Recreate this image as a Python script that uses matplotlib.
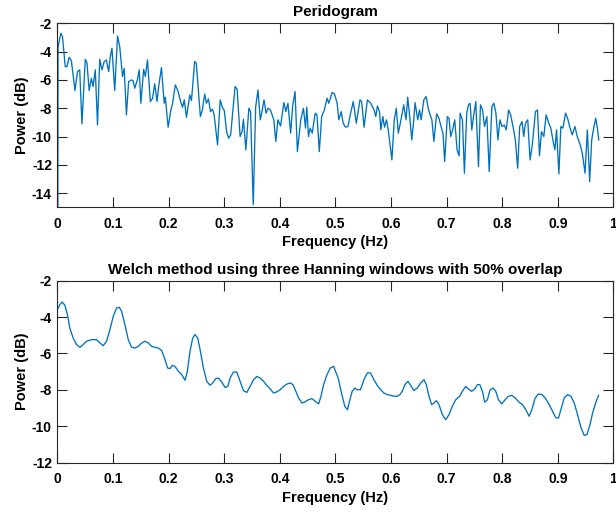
import matplotlib
matplotlib.use("Agg")
import matplotlib.pyplot as plt

plt.rcParams["font.family"] = ["Liberation Sans", "DejaVu Sans"]
plt.rcParams["axes.unicode_minus"] = False

# periodogram (Hz, dB)
per_freq = [
    0.0, 0.001, 0.006, 0.009, 0.014, 0.017, 0.021, 0.025, 0.0315, 0.036,
    0.040, 0.044, 0.050, 0.053, 0.057, 0.061, 0.064, 0.068, 0.072, 0.076,
    0.080, 0.084, 0.088, 0.092, 0.095, 0.098, 0.103, 0.108, 0.112, 0.117,
    0.120, 0.124, 0.128, 0.133, 0.136, 0.139, 0.144, 0.147, 0.150, 0.155,
    0.158, 0.162, 0.167, 0.171, 0.175, 0.179, 0.182, 0.187, 0.192, 0.194,
    0.199, 0.204, 0.207, 0.212, 0.217, 0.221, 0.225, 0.228, 0.232, 0.238,
    0.241, 0.2467, 0.2497, 0.257, 0.2606, 0.2648, 0.2679, 0.2715, 0.2752, 0.2788,
    0.2818, 0.2879, 0.2927, 0.2964, 0.300, 0.3042, 0.3079, 0.3115, 0.3194, 0.323,
    0.3285, 0.3321, 0.3345, 0.3388, 0.3442, 0.3473, 0.3521, 0.3564, 0.3606, 0.3648,
    0.3673, 0.3715, 0.3752, 0.3788, 0.383, 0.3891, 0.3927, 0.3964, 0.4012, 0.4073,
    0.4109, 0.4145, 0.4194, 0.423, 0.4273, 0.4315, 0.4376, 0.4424, 0.4461, 0.4485,
    0.4515, 0.4545, 0.4582, 0.4636, 0.4667, 0.4709, 0.4752, 0.480, 0.4849, 0.4879,
    0.494, 0.4982, 0.503, 0.506, 0.5103, 0.5139, 0.5181, 0.5224, 0.5272, 0.532,
    0.5375, 0.5441, 0.5471, 0.5514, 0.5574, 0.5634, 0.5695, 0.5725, 0.5755, 0.5792,
    0.5816, 0.5852, 0.5882, 0.5918, 0.5949, 0.6015, 0.6057, 0.6094, 0.613, 0.6178,
    0.6227, 0.6269, 0.6299, 0.6341, 0.6372, 0.6408, 0.6432, 0.648, 0.6511, 0.6541,
    0.6589, 0.6631, 0.6674, 0.6734, 0.677, 0.6819, 0.6855, 0.6903, 0.6934, 0.6964,
    0.7012, 0.7042, 0.7073, 0.7115, 0.7145, 0.7187, 0.7224, 0.7241, 0.7283, 0.7319,
    0.7361, 0.7392, 0.7422, 0.7452, 0.7482, 0.7524, 0.7572, 0.7608, 0.7645, 0.7681,
    0.7723, 0.7765, 0.7813, 0.7849, 0.7886, 0.7922, 0.7958, 0.7994, 0.8036, 0.8072,
    0.8114, 0.8151, 0.8205, 0.8235, 0.8277, 0.8313, 0.8355, 0.8386, 0.8416, 0.8458,
    0.850, 0.8536, 0.8566, 0.8596, 0.8633, 0.8669, 0.8705, 0.8747, 0.8789, 0.8837,
    0.8873, 0.891, 0.8946, 0.8976, 0.9018, 0.9054, 0.909, 0.9139, 0.9175, 0.9211,
    0.9259, 0.9307, 0.9349, 0.9392, 0.944, 0.9488, 0.953, 0.9572, 0.9608, 0.965,
    0.9681, 0.9711, 0.9735,
]
per_db = [
    -40.0, -3.7, -2.7, -2.94, -5.06, -5.06, -4.4, -4.64, -6.75, -5.41,
    -5.29, -9.1, -4.54, -4.78, -6.75, -5.88, -6.47, -5.29, -9.18, -4.54,
    -5.29, -4.7, -4.59, -5.41, -4.35, -3.76, -6.75, -2.89, -3.65, -5.76,
    -5.18, -8.47, -6.12, -6.0, -6.05, -6.59, -5.95, -5.29, -7.65, -5.25,
    -5.76, -4.59, -7.53, -7.3, -6.28, -7.53, -6.47, -5.13, -7.65, -7.22,
    -9.34, -8.12, -7.65, -6.35, -6.82, -7.46, -7.93, -7.41, -8.64, -7.06,
    -7.46, -4.7, -4.82, -8.59, -8.12, -6.99, -7.65, -7.34, -8.24, -8.07,
    -8.47, -10.59, -7.41, -7.93, -8.16, -9.65, -10.12, -9.88, -6.47, -6.64,
    -10.0, -9.65, -8.78, -10.94, -8.0, -8.24, -14.82, -7.93, -6.71, -8.82,
    -8.35, -7.41, -8.35, -8.0, -8.12, -8.82, -10.35, -8.82, -9.25, -7.6,
    -8.24, -7.65, -9.76, -7.84, -6.82, -11.06, -8.82, -8.0, -9.41, -7.93,
    -10.0, -9.41, -9.76, -8.35, -8.47, -11.06, -8.59, -8.12, -7.29, -7.65,
    -6.89, -6.99, -7.65, -8.82, -8.24, -9.06, -9.34, -9.29, -8.35, -7.53,
    -9.06, -7.41, -7.53, -9.34, -7.41, -7.65, -8.12, -8.59, -7.84, -8.24,
    -9.53, -8.59, -9.34, -8.82, -9.53, -11.65, -8.82, -8.0, -9.76, -8.82,
    -7.76, -8.82, -7.22, -8.82, -10.24, -8.82, -7.6, -8.82, -8.12, -8.82,
    -7.41, -7.18, -8.12, -8.82, -10.35, -8.4, -8.64, -9.34, -9.81, -11.76,
    -8.59, -8.71, -10.0, -9.41, -8.82, -10.94, -11.36, -8.35, -8.82, -12.59,
    -8.35, -7.76, -7.65, -9.53, -8.59, -7.53, -12.12, -7.76, -8.12, -9.29,
    -8.59, -12.47, -7.88, -7.65, -8.35, -10.24, -8.82, -9.29, -9.18, -9.53,
    -8.12, -8.47, -9.53, -10.24, -12.24, -9.29, -8.94, -10.0, -9.06, -8.82,
    -11.65, -10.71, -9.53, -8.24, -8.12, -11.36, -9.65, -10.0, -8.47, -9.06,
    -9.41, -10.24, -10.94, -9.53, -12.64, -9.29, -9.41, -8.35, -8.71, -9.29,
    -9.88, -9.29, -10.0, -10.47, -11.18, -12.59, -9.53, -13.18, -10.24, -9.29,
    -8.71, -9.41, -10.24,
]

# Welch estimate (Hz, dB)
welch_freq = [
    0.0, 0.0042, 0.0084, 0.0132, 0.018, 0.0222, 0.0282, 0.0342, 0.0402, 0.0462,
    0.0523, 0.0613, 0.0703, 0.0763, 0.0823, 0.0883, 0.0943, 0.1003, 0.1063, 0.1111,
    0.1153, 0.1213, 0.1273, 0.1333, 0.1393, 0.1453, 0.1514, 0.1574, 0.1634, 0.1694,
    0.1754, 0.1814, 0.1874, 0.1934, 0.1982, 0.2024, 0.2066, 0.2114, 0.2174, 0.2234,
    0.2294, 0.2336, 0.2384, 0.2432, 0.2474, 0.2523, 0.2565, 0.2625, 0.2685, 0.2745,
    0.2793, 0.2847, 0.2895, 0.2955, 0.3015, 0.3063, 0.3105, 0.3165, 0.3225, 0.3285,
    0.3345, 0.3405, 0.3465, 0.3526, 0.3586, 0.3646, 0.3706, 0.3766, 0.3826, 0.3886,
    0.3946, 0.4006, 0.4066, 0.4126, 0.4186, 0.4234, 0.4276, 0.4336, 0.4396, 0.4456,
    0.4517, 0.4577, 0.4637, 0.4697, 0.4739, 0.4787, 0.4847, 0.4907, 0.4967, 0.5048,
    0.5108, 0.5168, 0.5216, 0.5252, 0.530, 0.5348, 0.539, 0.545, 0.5511, 0.5571,
    0.5631, 0.5691, 0.5751, 0.5811, 0.5871, 0.5931, 0.5991, 0.6051, 0.6111, 0.6159,
    0.6201, 0.6249, 0.6303, 0.6351, 0.6411, 0.6471, 0.6532, 0.6592, 0.6634, 0.6682,
    0.673, 0.6772, 0.6814, 0.6862, 0.6922, 0.6982, 0.7042, 0.7102, 0.7162, 0.7234,
    0.7282, 0.7342, 0.739, 0.745, 0.7505, 0.7553, 0.7595, 0.7643, 0.7685, 0.7733,
    0.7781, 0.7835, 0.7883, 0.7931, 0.7991, 0.8051, 0.8111, 0.8171, 0.8231, 0.8303,
    0.8363, 0.8423, 0.8483, 0.8532, 0.8592, 0.8652, 0.8712, 0.8772, 0.8844, 0.8904,
    0.8964, 0.9012, 0.9054, 0.9114, 0.9174, 0.9234, 0.9294, 0.9354, 0.9414, 0.9474,
    0.9523, 0.9577, 0.9625, 0.9685, 0.9733,
]
welch_db = [
    -3.59, -3.32, -3.17, -3.35, -3.87, -4.6, -5.15, -5.51, -5.66, -5.51,
    -5.33, -5.24, -5.24, -5.42, -5.57, -5.33, -4.69, -3.96, -3.5, -3.46,
    -3.68, -4.42, -5.24, -5.66, -5.7, -5.61, -5.42, -5.33, -5.42, -5.61,
    -5.66, -5.7, -5.84, -6.34, -6.8, -6.83, -6.65, -6.71, -6.98, -7.16,
    -7.47, -6.98, -5.88, -5.15, -4.96, -5.15, -5.79, -6.8, -7.53, -7.75,
    -7.62, -7.38, -7.35, -7.57, -7.87, -7.81, -7.35, -7.02, -7.02, -7.53,
    -8.04, -8.14, -7.81, -7.44, -7.26, -7.35, -7.53, -7.75, -7.95, -8.17,
    -8.11, -7.99, -7.81, -7.68, -7.62, -7.71, -7.99, -8.44, -8.72, -8.66,
    -8.53, -8.48, -8.63, -8.77, -8.35, -7.71, -7.16, -6.8, -6.71, -7.35,
    -8.17, -8.9, -9.09, -8.63, -8.08, -7.9, -7.99, -7.99, -7.44, -7.07,
    -7.07, -7.44, -7.75, -7.99, -8.17, -8.26, -8.3, -8.35, -8.35, -8.26,
    -8.08, -7.71, -7.53, -7.75, -8.04, -7.9, -7.62, -7.44, -7.71, -8.35,
    -8.81, -8.72, -8.59, -8.81, -9.36, -9.64, -9.36, -8.9, -8.54, -8.35,
    -8.08, -7.81, -7.95, -8.08, -7.95, -7.71, -7.71, -8.08, -8.68, -8.54,
    -7.99, -7.9, -8.08, -8.54, -8.77, -8.54, -8.35, -8.3, -8.44, -8.68,
    -8.81, -9.09, -9.45, -9.09, -8.44, -8.22, -8.26, -8.44, -8.81, -9.17,
    -9.54, -9.54, -9.09, -8.44, -8.26, -8.35, -8.72, -9.36, -10.06, -10.5,
    -10.46, -9.91, -9.27, -8.66, -8.3,
]

LINE = "#0072BD"
AXC = "#262626"
LABEL = dict(fontsize=10.5, fontweight="bold", color="black")
TITLE = dict(fontsize=11, fontweight="bold", color="black")


def style(ax, ylim, yticks):
    ax.set_xlim(0, 1)
    ax.set_ylim(*ylim)
    ax.set_xticks([i / 10 for i in range(11)])
    ax.set_xticklabels(["0"] + [f"0.{i}" for i in range(1, 10)] + ["1"])
    ax.set_yticks(yticks)
    ax.set_yticklabels([str(t) for t in yticks])
    ax.tick_params(direction="in", length=7, width=0.8, color=AXC,
                   top=True, right=True, labelsize=10)
    ax.tick_params(axis="x", pad=7)
    ax.tick_params(axis="y", pad=4)
    for lab in ax.get_xticklabels() + ax.get_yticklabels():
        lab.set_fontweight("bold")
    for s in ax.spines.values():
        s.set_color(AXC)
        s.set_linewidth(0.8)
    ax.set_xlabel("Frequency (Hz)", labelpad=3, **LABEL)
    ax.set_ylabel("Power (dB)", labelpad=2, **LABEL)


fig = plt.figure(figsize=(6.16, 5.12), dpi=100)
ax1 = fig.add_axes([0.0933, 0.5951, 0.9026, 0.3594])
ax2 = fig.add_axes([0.0933, 0.0963, 0.9026, 0.3555])

ax1.plot(per_freq, per_db, color=LINE, lw=0.95)
style(ax1, (-15, -2), [-14, -12, -10, -8, -6, -4, -2])
ax1.set_title("Peridogram", pad=5, **TITLE)

ax2.plot(welch_freq, welch_db, color=LINE, lw=0.95)
style(ax2, (-12, -2), [-12, -10, -8, -6, -4, -2])
ax2.set_title("Welch method using three Hanning windows with 50% overlap",
              pad=5, **TITLE)

fig.savefig("out.png", dpi=100)
